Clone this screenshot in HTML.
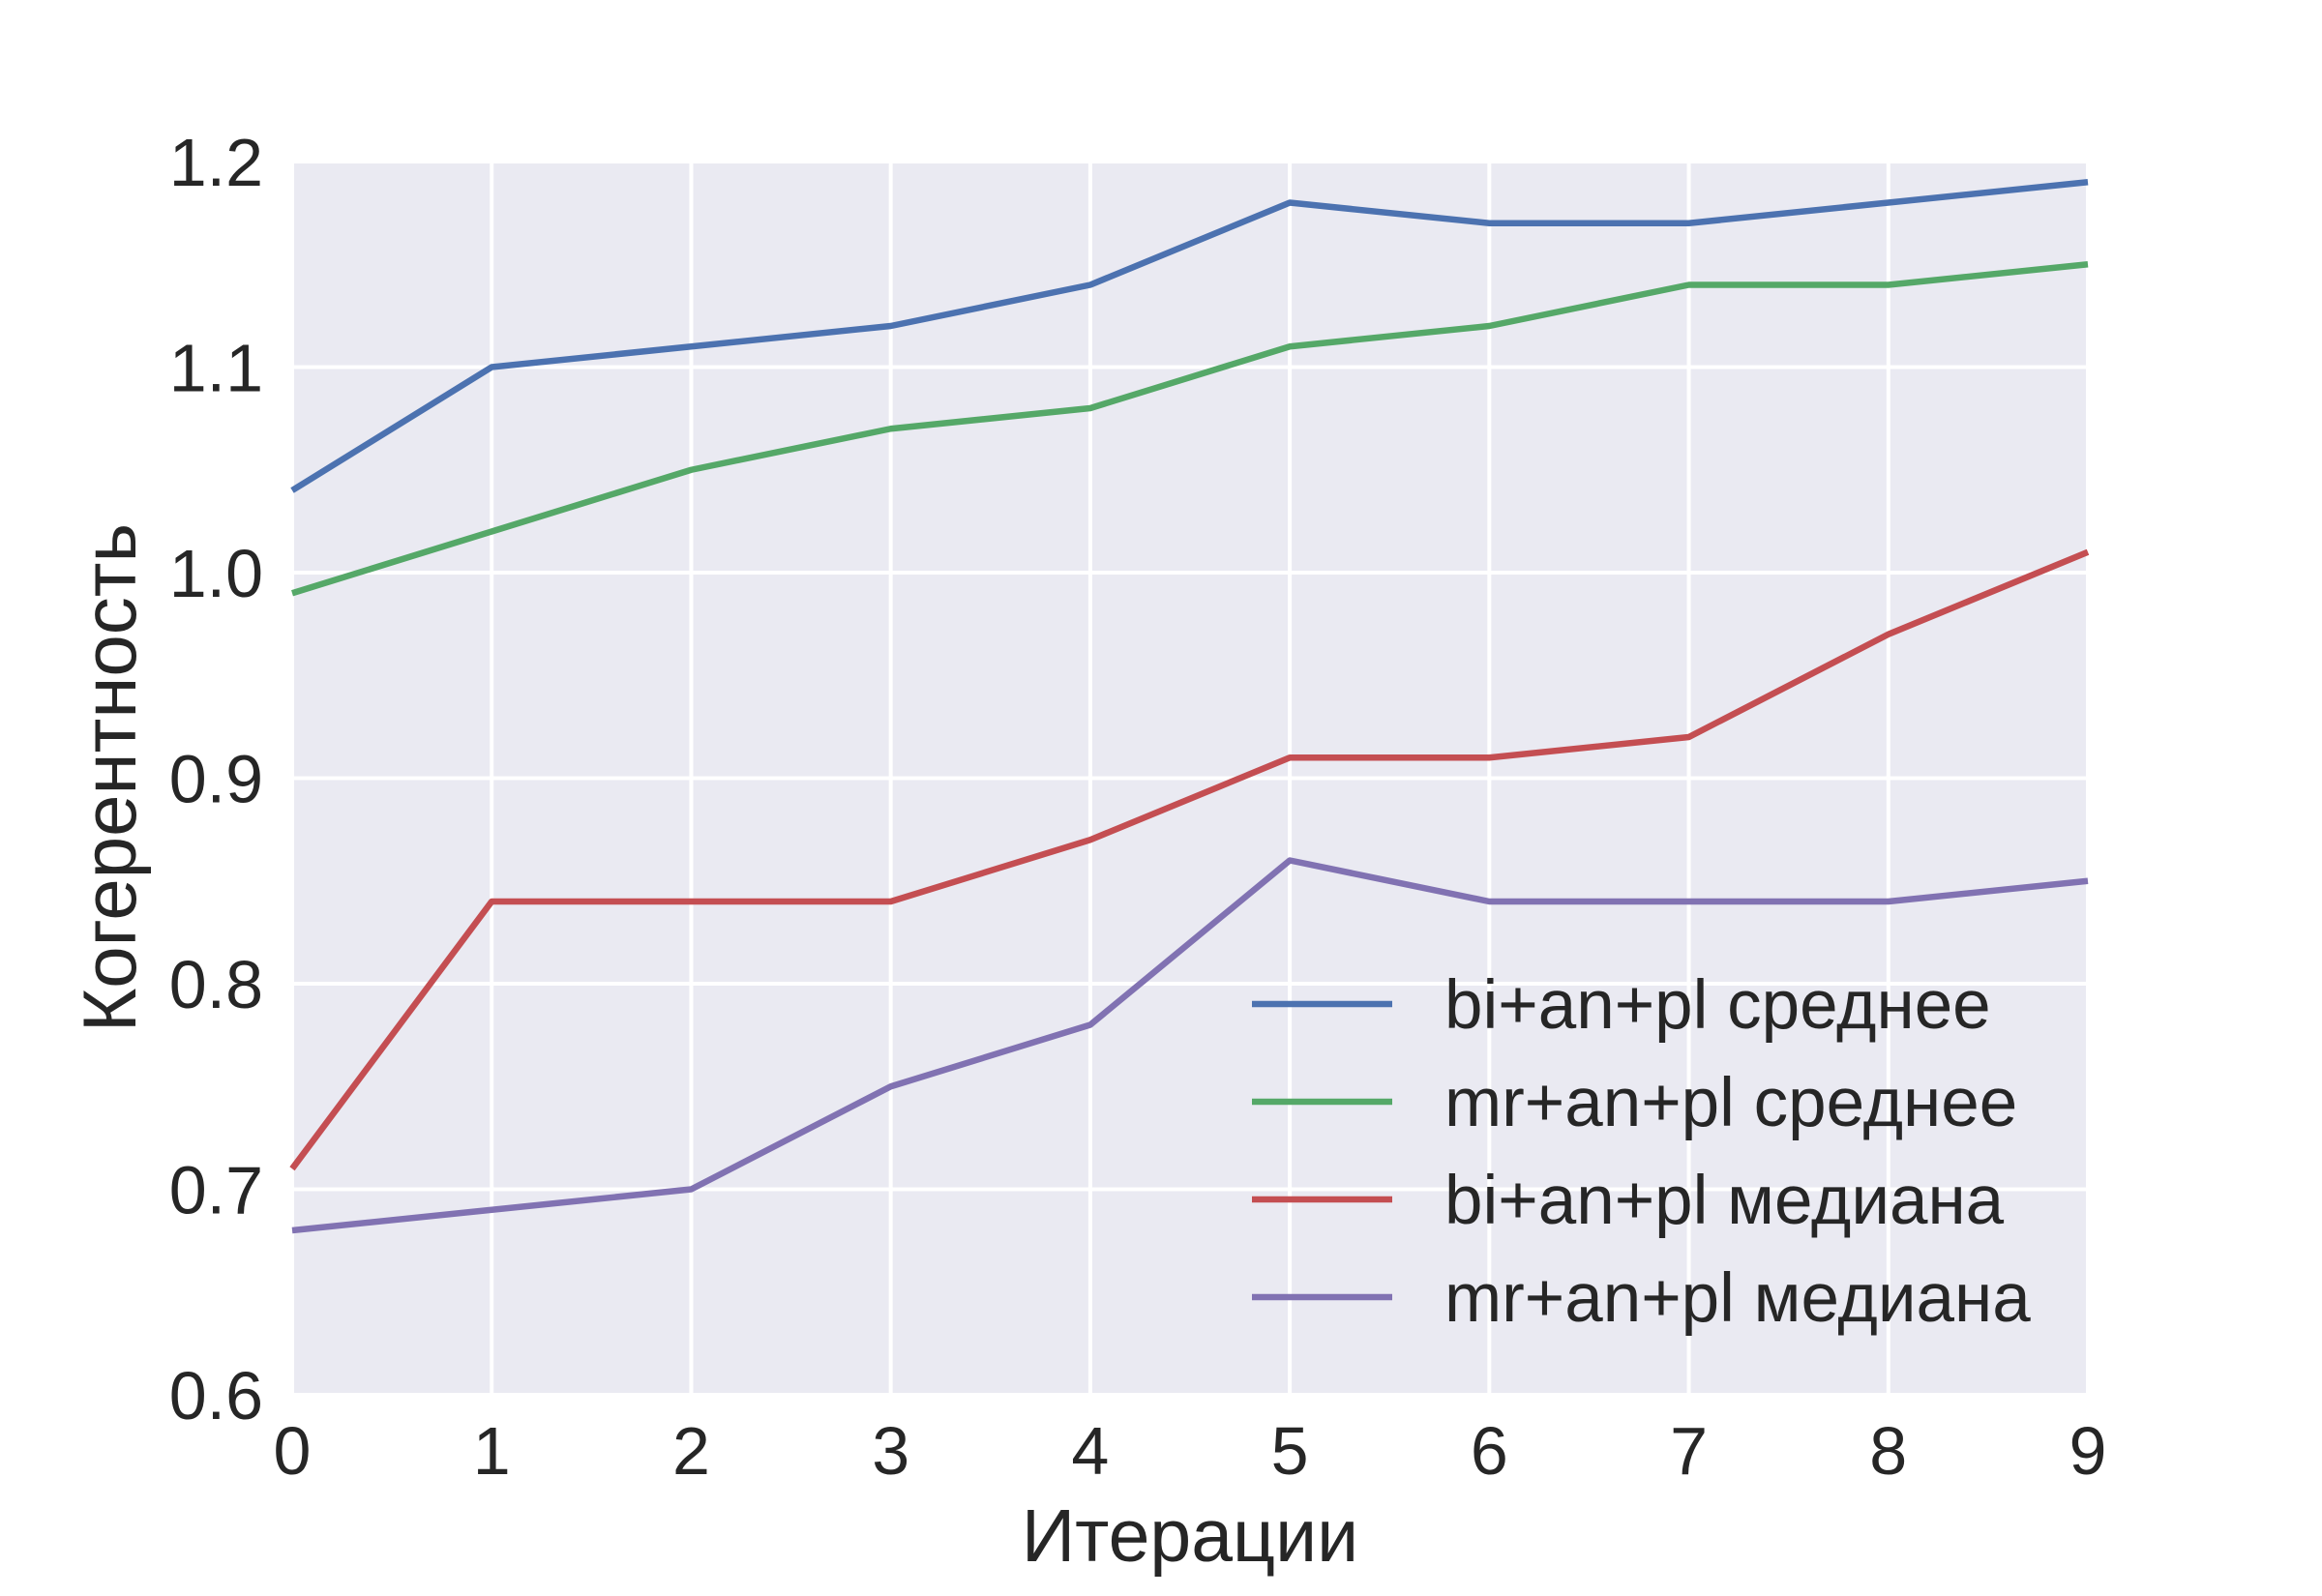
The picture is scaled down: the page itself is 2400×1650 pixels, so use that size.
<!DOCTYPE html>
<html><head><meta charset="utf-8"><style>
html,body{margin:0;padding:0;background:#fff;}
svg{display:block;font-family:"Liberation Sans","DejaVu Sans",sans-serif;}
</style></head><body>
<svg id="chart" width="2400" height="1650" viewBox="0 0 2400 1650">
<rect x="302" y="167" width="1856" height="1275" fill="#EAEAF2"/>
<g id="grid"></g>
<g id="series"></g>
<g id="ticks"></g>
<text x="1230" y="1614" font-size="77" fill="#262626" text-anchor="middle">Итерации</text>
<text transform="translate(140,804) rotate(-90)" font-size="78" fill="#262626" text-anchor="middle">Когерентность</text>
<g id="legend"></g>
</svg>
<script>
const categories = [0,1,2,3,4,5,6,7,8,9];
const yTicks = [0.6,0.7,0.8,0.9,1.0,1.1,1.2];
const yTickLabels = ["0.6","0.7","0.8","0.9","1.0","1.1","1.2"];
const seriesNames = ["bi+an+pl среднее","mr+an+pl среднее","bi+an+pl медиана","mr+an+pl медиана"];
const biMean = [1.04,1.10,1.11,1.12,1.14,1.18,1.17,1.17,1.18,1.19];
const mrMean = [0.99,1.02,1.05,1.07,1.08,1.11,1.12,1.14,1.14,1.15];
const biMedian = [0.71,0.84,0.84,0.84,0.87,0.91,0.91,0.92,0.97,1.01];
const mrMedian = [0.68,0.69,0.70,0.75,0.78,0.86,0.84,0.84,0.84,0.85];

const NS="http://www.w3.org/2000/svg";
const L=302,R=2158,T=167,B=1442;
const xS=v=>L+(v-0)/(9-0)*(R-L);
const yS=v=>B-(v-0.6)/(1.2-0.6)*(B-T);
const colors=["#4C72B0","#55A868","#C44E52","#8172B2"];
const all=[biMean,mrMean,biMedian,mrMedian];
const grid=document.getElementById('grid'),ticks=document.getElementById('ticks'),ser=document.getElementById('series'),leg=document.getElementById('legend');
function mk(t,a){const e=document.createElementNS(NS,t);for(const k in a)e.setAttribute(k,a[k]);return e;}
categories.forEach(c=>{
  const g=mk('line',{x1:xS(c),x2:xS(c),y1:T,y2:B,stroke:'#fff','stroke-width':4});
  
  
  grid.appendChild(g);
  const t=mk('text',{x:xS(c),y:1524,'font-size':70,fill:'#262626','text-anchor':'middle'});
  t.textContent=String(c);
  
  
  ticks.appendChild(t);
});
yTicks.forEach((v,i)=>{
  const g=mk('line',{x1:L,x2:R,y1:yS(v),y2:yS(v),stroke:'#fff','stroke-width':4});
  
  
  grid.appendChild(g);
  const t=mk('text',{x:272,y:yS(v)+25,'font-size':70,fill:'#262626','text-anchor':'end'});
  t.textContent=yTickLabels[i];
  
  
  ticks.appendChild(t);
});
all.forEach((d,i)=>{
  const p=mk('polyline',{points:d.map((v,j)=>xS(categories[j])+','+yS(v)).join(' '),fill:'none',stroke:colors[i],'stroke-width':6.5,'stroke-linejoin':'round'});
  
  
  ser.appendChild(p);
  const y=1038+i*101;
  const l=mk('line',{x1:1294,x2:1439,y1:y,y2:y,stroke:colors[i],'stroke-width':6.5});
  
  
  leg.appendChild(l);
  const t=mk('text',{x:1493,y:y+25,'font-size':71,fill:'#262626'});
  t.textContent=seriesNames[i];
  
  
  leg.appendChild(t);
});
</script>
</body></html>
